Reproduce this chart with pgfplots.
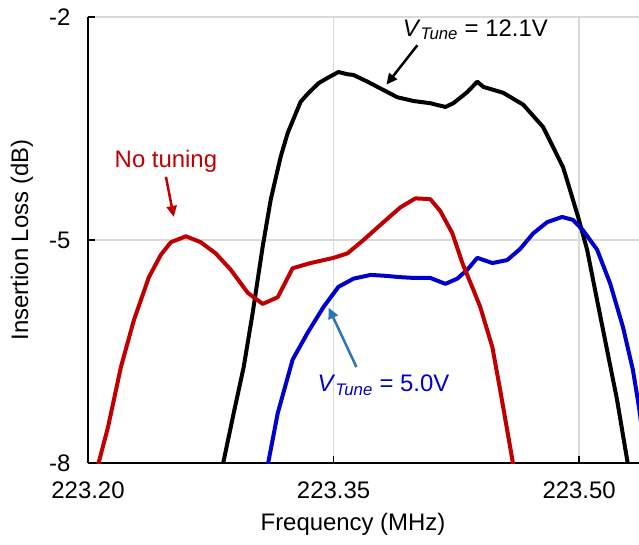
\documentclass[border=0pt]{standalone}
\usepackage{fontspec}
\setmainfont{Liberation Sans}
\usepackage{pgfplots}
\pgfplotsset{compat=1.18}
\usetikzlibrary{arrows.meta,calc}

\definecolor{tunered}{HTML}{C00000}
\definecolor{tuneblue}{HTML}{0000CC}
\definecolor{arrowblue}{HTML}{2E75B6}
\definecolor{gridgray}{HTML}{D9D9D9}

\begin{document}
\begin{tikzpicture}[font=\fontsize{24}{28}\selectfont]
\begin{axis}[
  scale only axis, width=551bp, height=446bp,
  xmin=223.20, xmax=223.5366, ymin=-8, ymax=-2,
  axis x line=bottom, axis y line=left,
  axis line style={-, line width=1.2bp, black},
  xtick={223.20,223.35,223.50}, xticklabels={223.20,223.35,223.50},
  ytick={-8,-5,-2}, yticklabels={-8,-5,-2},
  tick align=inside, major tick length=7bp,
  tick style={line width=1.2bp, black},
  xticklabel style={anchor=center, yshift=-27bp},
  yticklabel style={anchor=east, xshift=-14bp},
  grid=major, grid style={gridgray, line width=1.5bp},
  clip mode=individual,
  every axis plot/.append style={line width=4bp, line join=round, no marks},
]
\coordinate (o) at (rel axis cs:0,0);

% V_Tune = 12.1 V
\addplot[black] coordinates {
(223.2823,-8.03) (223.2890,-7.33) (223.2951,-6.71) (223.3006,-5.98) (223.3067,-5.09)
(223.3116,-4.46) (223.3177,-3.88) (223.3220,-3.56) (223.3299,-3.14) (223.3348,-3.02)
(223.3409,-2.89) (223.3463,-2.82) (223.3530,-2.74) (223.3585,-2.77) (223.3622,-2.78)
(223.3707,-2.87) (223.3768,-2.94) (223.3829,-3.01) (223.3890,-3.08) (223.3988,-3.13)
(223.4091,-3.16) (223.4183,-3.21) (223.4232,-3.16) (223.4317,-3.01) (223.4378,-2.87)
(223.4415,-2.94) (223.4537,-3.02) (223.4659,-3.18) (223.4780,-3.48) (223.4841,-3.75)
(223.4902,-4.02) (223.4945,-4.33) (223.4994,-4.69) (223.5049,-5.13) (223.5110,-5.81)
(223.5171,-6.48) (223.5232,-7.15) (223.5299,-8.03)};

% V_Tune = 5.0 V
\addplot[tuneblue] coordinates {
(223.3098,-8.03) (223.3159,-7.33) (223.3250,-6.61) (223.3341,-6.25) (223.3439,-5.90)
(223.3530,-5.63) (223.3622,-5.52) (223.3726,-5.47) (223.3805,-5.48) (223.3909,-5.50)
(223.3988,-5.51) (223.4091,-5.51) (223.4183,-5.59) (223.4256,-5.52) (223.4317,-5.40)
(223.4378,-5.24) (223.4470,-5.31) (223.4561,-5.27) (223.4640,-5.12) (223.4720,-4.91)
(223.4805,-4.76) (223.4896,-4.69) (223.4963,-4.73) (223.5024,-4.87) (223.5110,-5.13)
(223.5189,-5.58) (223.5268,-6.17) (223.5329,-6.75) (223.5366,-7.25) (223.5402,-7.83)};

% no tuning
\addplot[tunered] coordinates {
(223.2061,-8.03) (223.2122,-7.52) (223.2201,-6.71) (223.2280,-6.08) (223.2372,-5.50)
(223.2445,-5.20) (223.2506,-5.03) (223.2598,-4.95) (223.2689,-5.03) (223.2780,-5.18)
(223.2872,-5.40) (223.2976,-5.71) (223.3067,-5.86) (223.3159,-5.77) (223.3250,-5.38)
(223.3360,-5.31) (223.3500,-5.24) (223.3585,-5.18) (223.3683,-5.00) (223.3805,-4.76)
(223.3909,-4.56) (223.4000,-4.44) (223.4091,-4.45) (223.4152,-4.61) (223.4226,-4.91)
(223.4287,-5.31) (223.4354,-5.67) (223.4396,-5.90) (223.4470,-6.44) (223.4518,-7.02)
(223.4561,-7.56) (223.4598,-8.03)};

\node[text=tunered] at (axis cs:223.2476,-3.94) {No tuning};
\draw[tunered, line width=2.5bp, -{Triangle[length=11bp,width=10bp]}]
  (axis cs:223.2476,-4.15) -- (axis cs:223.2524,-4.69);
\node at (axis cs:223.4366,-2.17) {\textit{V}\textsubscript{\textit{Tune}} = 12.1V};
\draw[black, line width=2.5bp, -{Triangle[length=11bp,width=10bp]}]
  (axis cs:223.4012,-2.38) -- (axis cs:223.3823,-2.91);
\node[text=tuneblue] at (axis cs:223.3805,-6.95) {\textit{V}\textsubscript{\textit{Tune}} = 5.0V};
\draw[arrowblue, line width=2.5bp, -{Triangle[length=11bp,width=10bp]}]
  (axis cs:223.3640,-6.71) -- (axis cs:223.3470,-5.91);
\end{axis}
\node at ($(o)+(265bp,-61bp)$) {Frequency (MHz)};
\node[rotate=90] at ($(o)+(-66bp,223bp)$) {Insertion Loss (dB)};
\pgfresetboundingbox
\path ($(o)+(-88bp,-82bp)$) rectangle ($(o)+(551bp,463bp)$);
\end{tikzpicture}
\end{document}
